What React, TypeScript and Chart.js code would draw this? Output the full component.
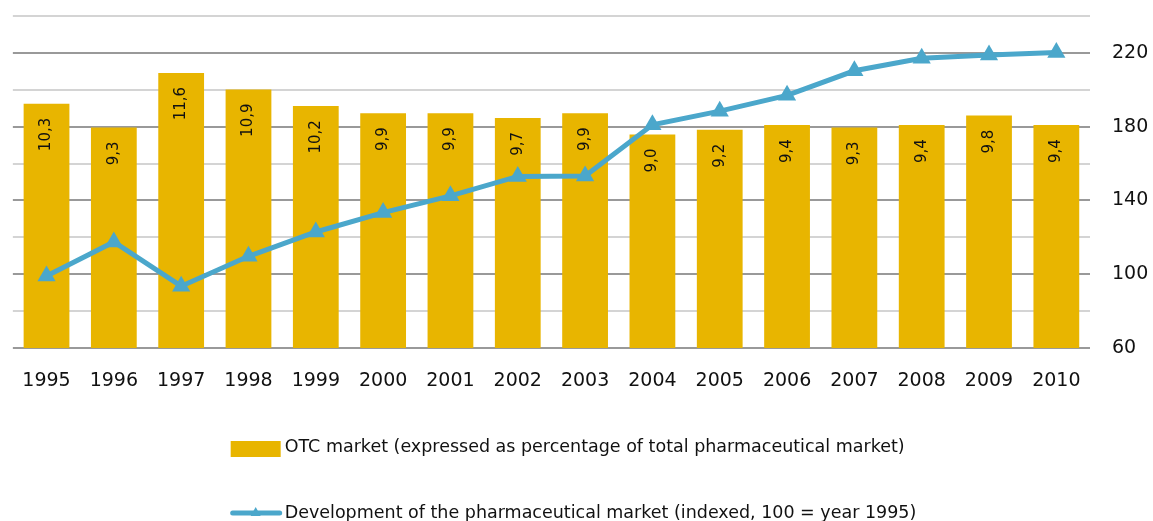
import React, { useEffect, useRef } from "react";
import { Chart, registerables } from "chart.js";

Chart.register(...registerables);

const years = ["1995", "1996", "1997", "1998", "1999", "2000", "2001", "2002", "2003", "2004", "2005", "2006", "2007", "2008", "2009", "2010"];
const otcShare = [10.3, 9.3, 11.6, 10.9, 10.2, 9.9, 9.9, 9.7, 9.9, 9.0, 9.2, 9.4, 9.3, 9.4, 9.8, 9.4];
const marketIndex = [99, 117.5, 93.5, 109.7, 122.9, 133.4, 142.5, 153, 153.3, 181, 188.4, 197, 210.3, 217.1, 218.8, 220.2];
const indexTicks = [60, 100, 140, 180, 220];

const otcLabel = "OTC market (expressed as percentage of total pharmaceutical market)";
const indexLabel = "Development of the pharmaceutical market (indexed, 100 = year 1995)";

const GOLD = "#E8B500";
const BLUE = "#4BA7CB";
const TEXT = "#111111";

const barLabelPlugin = {
  id: "barLabels",
  afterDatasetsDraw(chart: any) {
    const meta = chart.getDatasetMeta(1);
    const ctx = chart.ctx;
    ctx.save();
    ctx.font = "15px 'DejaVu Sans'";
    ctx.fillStyle = TEXT;
    ctx.textAlign = "right";
    ctx.textBaseline = "middle";
    meta.data.forEach((bar: any, i: number) => {
      const txt = otcShare[i].toFixed(1).replace(".", ",");
      ctx.save();
      ctx.translate(bar.x, bar.y + 14);
      ctx.rotate(-Math.PI / 2);
      ctx.fillText(txt, 0, 0);
      ctx.restore();
    });
    ctx.restore();
  },
};

const legendPlugin = {
  id: "customLegend",
  afterDraw(chart: any) {
    const ctx = chart.ctx;
    const W = chart.width;
    ctx.save();
    ctx.font = "17.5px 'DejaVu Sans'";
    ctx.textBaseline = "middle";
    ctx.textAlign = "left";
    const w1 = ctx.measureText(otcLabel).width;
    const w2 = ctx.measureText(indexLabel).width;
    const maxW = Math.max(w1, w2);
    const x0 = (W - (54 + maxW)) / 2 - 3;
    const y1 = chart.chartArea.bottom + 99;
    const y2 = chart.chartArea.bottom + 165;
    // bar legend
    ctx.fillStyle = GOLD;
    ctx.fillRect(x0, y1 - 6, 50, 16);
    ctx.fillStyle = TEXT;
    ctx.fillText(otcLabel, x0 + 54, y1);
    // line legend
    ctx.strokeStyle = BLUE;
    ctx.lineWidth = 5;
    ctx.lineCap = "round";
    ctx.beginPath();
    ctx.moveTo(x0 + 2, y2);
    ctx.lineTo(x0 + 49, y2);
    ctx.stroke();
    ctx.fillStyle = BLUE;
    ctx.beginPath();
    ctx.moveTo(x0 + 25, y2 - 6);
    ctx.lineTo(x0 + 30, y2 + 3);
    ctx.lineTo(x0 + 20, y2 + 3);
    ctx.closePath();
    ctx.fill();
    ctx.fillStyle = TEXT;
    ctx.fillText(indexLabel, x0 + 54, y2);
    ctx.restore();
  },
};

export default function App() {
  const ref = useRef<HTMLCanvasElement | null>(null);

  useEffect(() => {
    document.body.style.margin = "0";
    const canvas = ref.current;
    if (!canvas) return;
    const chart = new Chart(canvas, {
      data: {
        labels: years,
        datasets: [
          {
            type: "line",
            label: indexLabel,
            data: marketIndex,
            yAxisID: "y1",
            borderColor: BLUE,
            backgroundColor: BLUE,
            borderWidth: 5,
            pointStyle: "triangle",
            pointRadius: 10.5,
            pointBackgroundColor: BLUE,
            pointBorderColor: BLUE,
            pointBorderWidth: 0,
            tension: 0,
            order: 0,
          } as any,
          {
            type: "bar",
            label: otcLabel,
            data: otcShare,
            yAxisID: "y",
            backgroundColor: GOLD,
            borderWidth: 0,
            categoryPercentage: 1,
            barPercentage: 0.68,
            order: 1,
          } as any,
        ],
      },
      options: {
        animation: false,
        responsive: true,
        maintainAspectRatio: false,
        layout: { padding: { left: 11, right: 0, top: 16, bottom: 123 } },
        plugins: {
          legend: { display: false },
          tooltip: { enabled: false },
        },
        scales: {
          x: {
            grid: { display: false, drawTicks: false },
            border: { display: false },
            ticks: {
              color: TEXT,
              padding: 22,
              font: { family: "'DejaVu Sans'", size: 19 },
              maxRotation: 0,
            },
            afterFit(scale: any) {
              scale.height = 50;
            },
          },
          y: {
            display: false,
            min: 0,
            max: 14,
          },
          y1: {
            position: "right",
            min: 60,
            max: 240,
            border: { display: false },
            grid: {
              drawTicks: true,
              tickLength: 22,
              tickColor: "rgba(0,0,0,0)",
              lineWidth: 2,
              color: (c: any) => (indexTicks.includes(c.tick?.value) ? "#999999" : "#D4D4D4"),
            },
            ticks: {
              stepSize: 20,
              padding: 0,
              color: TEXT,
              font: { family: "'DejaVu Sans'", size: 19 },
              callback: (v: any) => (indexTicks.includes(Number(v)) ? String(v) : ""),
            },
            afterFit(scale: any) {
              scale.width = 63;
            },
          },
        },
      },
      plugins: [barLabelPlugin, legendPlugin],
    } as any);
    return () => chart.destroy();
  }, []);

  return (
    <div style={{ width: 1153, height: 521, position: "relative" }}>
      <canvas ref={ref} />
    </div>
  );
}
